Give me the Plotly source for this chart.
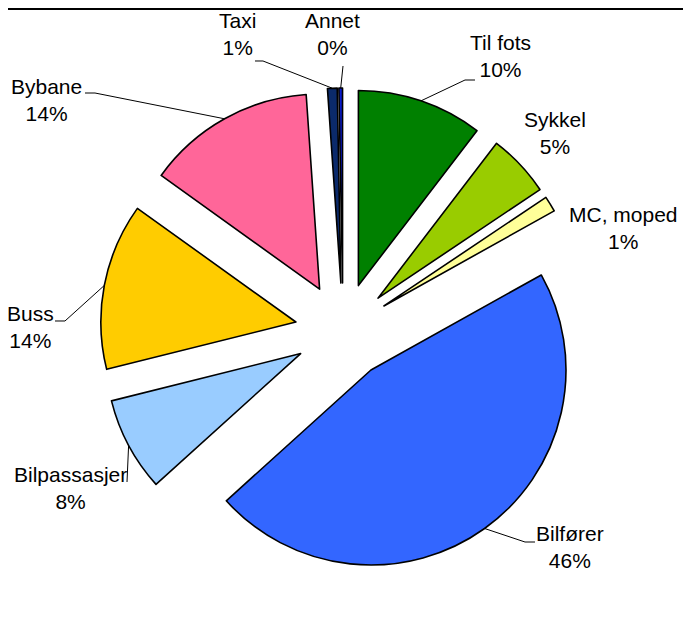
import math
import plotly.graph_objects as go

# ---- data ----
categories = ["Til fots", "Sykkel", "MC, moped", "Bilfører", "Bilpassasjer",
              "Buss", "Bybane", "Taxi", "Annet"]
shares = [10.4, 5.2, 1.3, 46.4, 7.8, 13.8, 14.0, 0.8, 0.3]
colors = ["#008000", "#99CC00", "#FFFF99", "#3366FF", "#99CCFF",
          "#FFCC00", "#FF6699", "#0B2A6B", "#0A1ACC"]

# ---- layout geometry (page pixels; the page body adds an 8px offset) ----
OFF = 8
W, H = 683, 624
L, T = 100 - OFF, 88 - OFF
pw, ph = 486, 486
R, B = W - L - pw, H - T - ph
PULL = 0.246
rad = min(pw, ph) / 2 / (1 + PULL)
cx, cy = OFF + L + pw / 2, OFF + T + ph / 2

# label block centres and leader-line label-side points (page pixels)
label_pos = {
    "Til fots": (500, 56), "Sykkel": (555, 133), "MC, moped": (623, 228),
    "Bilfører": (570, 547), "Bilpassasjer": (70, 488), "Buss": (30, 327),
    "Bybane": (46, 100), "Taxi": (237, 34), "Annet": (332, 34),
}
leader_start = {
    "Til fots": [(475, 80), (465, 80)],
    "Bilfører": [(535, 542), (525, 542)],
    "Bilpassasjer": [(127, 482)],
    "Buss": [(55, 321), (65, 321)],
    "Bybane": [(85, 93), (95, 93)],
    "Taxi": [(255, 61), (263, 61)],
    "Annet": [(343, 66)],
}


def to_paper(px, py):
    return (px - OFF - L) / pw, 1 - (py - OFF - T) / ph


total = sum(shares)
fig = go.Figure(go.Pie(
    labels=categories, values=shares, sort=False, direction="clockwise",
    rotation=0, pull=[PULL] * len(shares),
    marker=dict(colors=colors, line=dict(color="black", width=1.6)),
    textinfo="none", hoverinfo="label+percent", showlegend=False,
))

font = dict(family="Liberation Sans, Arial", size=21, color="black")
annotations = []
shapes = []
cum = 0.0
for name, v in zip(categories, shares):
    a0 = cum / total * 360
    cum += v
    a1 = cum / total * 360
    mid = math.radians((a0 + a1) / 2)
    ux, uy = math.sin(mid), -math.cos(mid)
    scx, scy = cx + PULL * rad * ux, cy + PULL * rad * uy
    arc = (scx + rad * ux, scy + rad * uy)
    pct = f"{round(v / total * 100)}%"
    lx, ly = label_pos[name]
    px, py = to_paper(lx, ly)
    annotations.append(dict(text=f"{name}<br>{pct}", x=px, y=py, xref="paper", yref="paper",
                            xanchor="center", yanchor="middle", showarrow=False,
                            align="center", font=font))
    if name in leader_start:
        pts = leader_start[name] + [arc]
        path = "M " + " L ".join(f"{to_paper(*p)[0]:.5f},{to_paper(*p)[1]:.5f}" for p in pts)
        shapes.append(dict(type="path", path=path, xref="paper", yref="paper",
                           line=dict(color="black", width=1)))

# top border line
x0, y0 = to_paper(OFF, OFF + 1)
x1, _ = to_paper(OFF + W, OFF + 1)
shapes.append(dict(type="line", x0=x0, x1=x1, y0=y0, y1=y0, xref="paper", yref="paper",
                   line=dict(color="black", width=2)))

fig.update_layout(
    width=W, height=H, margin=dict(l=L, r=R, t=T, b=B),
    paper_bgcolor="white", plot_bgcolor="white",
    annotations=annotations, shapes=shapes,
)
fig.write_html("out.html")
